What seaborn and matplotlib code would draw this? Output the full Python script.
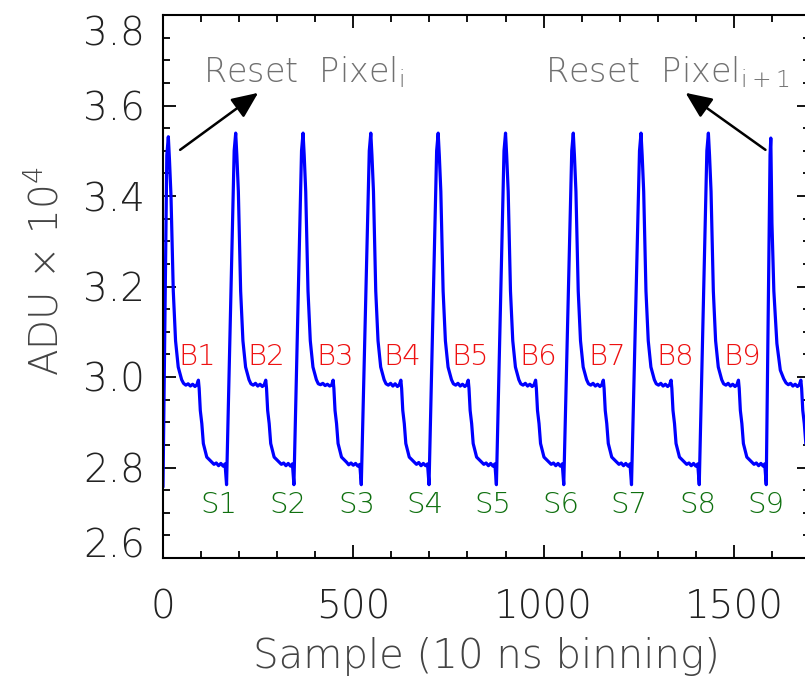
import matplotlib
matplotlib.use("Agg")
import matplotlib.pyplot as plt
from matplotlib.ticker import MultipleLocator
import seaborn as sns
import pandas as pd

# ---------------- data ----------------
samples = [
    0, 10, 14,
    # period 1 (B1 / S1)
    17, 21, 27, 33, 40, 49, 54, 60, 66, 72, 78, 84, 89, 93, 95, 98, 102, 106, 115,
    128, 134, 140, 146, 152, 158, 163, 167, 187, 191,
    # period 2
    194, 198, 204, 210, 217, 226, 231, 237, 243, 249, 255, 261, 266, 270, 272, 275, 279, 283, 292,
    305, 311, 317, 323, 329, 335, 340, 344, 364, 368,
    # period 3
    371, 375, 381, 387, 394, 403, 408, 414, 420, 426, 432, 438, 443, 447, 449, 452, 456, 460, 469,
    482, 488, 494, 500, 506, 512, 517, 521, 542, 546,
    # period 4
    549, 553, 559, 565, 572, 581, 586, 592, 598, 604, 610, 616, 621, 625, 627, 630, 634, 638, 647,
    660, 666, 672, 678, 684, 690, 695, 699, 719, 723,
    # period 5
    726, 730, 736, 742, 749, 758, 763, 769, 775, 781, 787, 793, 798, 802, 804, 807, 811, 815, 824,
    837, 843, 849, 855, 861, 867, 872, 876, 896, 900,
    # period 6
    903, 907, 913, 919, 926, 935, 940, 946, 952, 958, 964, 970, 975, 979, 981, 984, 988, 992, 1001,
    1014, 1020, 1026, 1032, 1038, 1044, 1049, 1053, 1074, 1078,
    # period 7
    1081, 1085, 1091, 1097, 1104, 1113, 1118, 1124, 1130, 1136, 1142, 1148, 1153, 1157, 1159, 1162, 1166, 1170, 1179,
    1192, 1198, 1204, 1210, 1216, 1222, 1227, 1231, 1252, 1256,
    # period 8
    1259, 1263, 1269, 1275, 1282, 1291, 1296, 1302, 1308, 1314, 1320, 1326, 1331, 1335, 1337, 1340, 1344, 1348, 1357,
    1370, 1376, 1382, 1388, 1394, 1400, 1405, 1409, 1429, 1433,
    # period 9
    1436, 1440, 1446, 1452, 1459, 1468, 1473, 1479, 1485, 1491, 1497, 1503, 1508, 1512, 1514, 1517, 1521, 1525, 1534,
    1547, 1553, 1559, 1565, 1571, 1577, 1581, 1585, 1595, 1597,
    # next pixel
    1600, 1605, 1613, 1622, 1631, 1637, 1643, 1649, 1655, 1661, 1667, 1672, 1676, 1678, 1681, 1685, 1689, 1698, 1705,
]

adu = [
    2.757, 3.49, 3.531,
    # period 1
    3.48, 3.40, 3.19, 3.08, 3.022, 2.994, 2.986, 2.982, 2.985, 2.980, 2.984, 2.979, 2.983, 2.993, 2.975, 2.926, 2.897, 2.853, 2.823,
    2.812, 2.807, 2.810, 2.804, 2.809, 2.803, 2.808, 2.762, 3.50, 3.539,
    # period 2
    3.49, 3.41, 3.19, 3.08, 3.022, 2.994, 2.985, 2.982, 2.986, 2.980, 2.984, 2.979, 2.983, 2.993, 2.975, 2.926, 2.897, 2.853, 2.823,
    2.812, 2.807, 2.810, 2.804, 2.809, 2.803, 2.808, 2.762, 3.50, 3.539,
    # period 3
    3.49, 3.41, 3.19, 3.08, 3.022, 2.994, 2.985, 2.983, 2.986, 2.981, 2.984, 2.980, 2.982, 2.993, 2.975, 2.926, 2.897, 2.853, 2.823,
    2.812, 2.806, 2.810, 2.805, 2.809, 2.803, 2.807, 2.762, 3.50, 3.539,
    # period 4
    3.49, 3.41, 3.19, 3.08, 3.022, 2.994, 2.985, 2.982, 2.986, 2.980, 2.985, 2.979, 2.983, 2.993, 2.975, 2.926, 2.897, 2.853, 2.823,
    2.812, 2.807, 2.811, 2.804, 2.809, 2.804, 2.808, 2.762, 3.50, 3.539,
    # period 5
    3.49, 3.41, 3.19, 3.08, 3.022, 2.994, 2.985, 2.982, 2.986, 2.980, 2.984, 2.979, 2.983, 2.993, 2.975, 2.926, 2.897, 2.853, 2.823,
    2.812, 2.807, 2.810, 2.804, 2.809, 2.803, 2.808, 2.762, 3.50, 3.539,
    # period 6
    3.49, 3.41, 3.19, 3.08, 3.022, 2.994, 2.985, 2.982, 2.986, 2.980, 2.984, 2.979, 2.983, 2.993, 2.975, 2.926, 2.897, 2.853, 2.823,
    2.812, 2.807, 2.810, 2.804, 2.809, 2.803, 2.808, 2.762, 3.50, 3.539,
    # period 7
    3.49, 3.41, 3.19, 3.08, 3.022, 2.994, 2.985, 2.982, 2.986, 2.980, 2.984, 2.979, 2.983, 2.993, 2.975, 2.926, 2.897, 2.853, 2.823,
    2.812, 2.807, 2.810, 2.804, 2.809, 2.803, 2.808, 2.762, 3.50, 3.539,
    # period 8
    3.49, 3.41, 3.19, 3.08, 3.022, 2.994, 2.985, 2.982, 2.986, 2.980, 2.984, 2.979, 2.983, 2.993, 2.975, 2.926, 2.897, 2.853, 2.823,
    2.812, 2.807, 2.810, 2.804, 2.809, 2.803, 2.808, 2.762, 3.50, 3.539,
    # period 9
    3.49, 3.41, 3.19, 3.08, 3.022, 2.994, 2.985, 2.982, 2.986, 2.980, 2.984, 2.979, 2.983, 2.993, 2.975, 2.926, 2.897, 2.853, 2.823,
    2.812, 2.807, 2.810, 2.804, 2.809, 2.803, 2.808, 2.762, 3.49, 3.528,
    # next pixel
    3.34, 3.19, 3.074, 3.015, 2.996, 2.987, 2.983, 2.986, 2.980, 2.984, 2.979, 2.983, 2.993, 2.975, 2.926, 2.897, 2.853, 2.823, 2.818,
]

b_labels = ["B1", "B2", "B3", "B4", "B5", "B6", "B7", "B8", "B9"]
b_pos = [89, 270, 452, 629, 808, 986, 1167, 1346, 1522]
b_y = 3.027
s_labels = ["S1", "S2", "S3", "S4", "S5", "S6", "S7", "S8", "S9"]
s_pos = [146, 327, 509, 688, 866, 1046, 1225, 1405, 1583]
s_y = 2.700

x_ticks = [0, 500, 1000, 1500]
x_tick_labels = ["0", "500", "1000", "1500"]
y_ticks = [2.6, 2.8, 3.0, 3.2, 3.4, 3.6, 3.8]
y_tick_labels = ["2.6", "2.8", "3.0", "3.2", "3.4", "3.6", "3.8"]

reset_i_text = "Reset  Pixel$_\\mathregular{i}$"
reset_i_xy = (105, 3.652)
arrow_i = ((45, 3.502), (250, 3.628))       # (tail, head)
reset_i1_text = "Reset  Pixel$_\\mathregular{i+1}$"
reset_i1_xy = (1004, 3.652)
arrow_i1 = ((1583, 3.502), (1373, 3.628))

# ---------------- style ----------------
FONT = "DejaVu Sans"
sns.set_theme(style="white")
plt.rcParams["font.family"] = [FONT]
plt.rcParams["font.weight"] = "light"
plt.rcParams["axes.labelweight"] = "light"
plt.rcParams["mathtext.fontset"] = "custom"
plt.rcParams["mathtext.rm"] = "DejaVu Sans:light"
plt.rcParams["mathtext.it"] = "DejaVu Sans:light"

fig = plt.figure(figsize=(8.05, 6.77), dpi=100)
ax = fig.add_axes([163 / 805, 119 / 677, 647 / 805, 543 / 677])

df = pd.DataFrame({"sample": samples, "adu": adu})
sns.lineplot(data=df, x="sample", y="adu", ax=ax, color="#0000ff",
             linewidth=2.3, sort=False, estimator=None)

ax.set_xlim(0, 1700)
ax.set_ylim(2.6, 3.8)
ax.set_xticks(x_ticks)
ax.set_xticklabels(x_tick_labels)
ax.set_yticks(y_ticks)
ax.set_yticklabels(y_tick_labels)
ax.xaxis.set_minor_locator(MultipleLocator(100))
ax.yaxis.set_minor_locator(MultipleLocator(0.05))

for sp in ax.spines.values():
    sp.set_visible(True)
    sp.set_color("black")
    sp.set_linewidth(1.5)

ax.tick_params(which="both", direction="in", top=True, right=True,
               bottom=True, left=True, color="black", width=1.3)
ax.tick_params(which="major", length=9.5)
ax.tick_params(which="minor", length=5)
ax.tick_params(axis="x", which="major", labelsize=28, labelcolor="#222222", pad=22)
ax.tick_params(axis="y", which="major", labelsize=28, labelcolor="#222222", pad=13)

ylabs = ax.get_yticklabels()
ylabs[0].set_va("baseline")
ylabs[-1].set_va("top")

ax.set_xlabel("Sample (10 ns binning)", fontsize=29, color="#444444")
ax.set_ylabel("ADU × 10$^\\mathregular{4}$", fontsize=28, color="#444444")
ax.xaxis.set_label_coords(0.5, -0.145)
ax.yaxis.set_label_coords(-0.15, 0.527)
ax.grid(False)

for lab, xp in zip(b_labels, b_pos):
    ax.text(xp, b_y, lab, color="#ee1111", fontsize=21, ha="center", va="baseline")
for lab, xp in zip(s_labels, s_pos):
    ax.text(xp, s_y, lab, color="#0f700f", fontsize=21, ha="center", va="baseline")

ax.text(reset_i_xy[0], reset_i_xy[1], reset_i_text, color="#707070", fontsize=24,
        ha="left", va="baseline")
ax.text(reset_i1_xy[0], reset_i1_xy[1], reset_i1_text, color="#707070", fontsize=24,
        ha="left", va="baseline")

for tail, head in (arrow_i, arrow_i1):
    ax.annotate("", xy=head, xytext=tail,
                arrowprops=dict(arrowstyle="-|>,head_length=0.5,head_width=0.22",
                                mutation_scale=32, color="black", lw=1.8,
                                shrinkA=0, shrinkB=0))

fig.savefig("out.png", dpi=100)
